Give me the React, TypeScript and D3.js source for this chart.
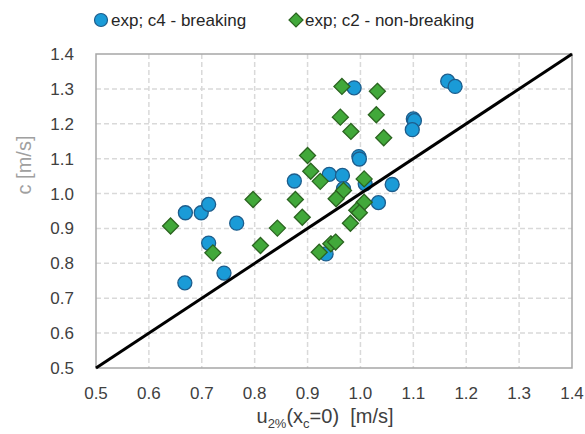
import React from "react";
import * as d3 from "d3";

// Breaking waves (series c4): [u2%, c]
const breakingU = [0.669, 0.699, 0.713, 0.766, 0.713, 0.668, 0.742, 0.875, 0.941, 0.966, 0.988, 0.997, 0.998, 0.968, 1.009, 1.060, 1.034, 0.935, 1.100, 1.102, 1.098, 1.165, 1.179];
const breakingC = [0.945, 0.945, 0.969, 0.915, 0.858, 0.744, 0.772, 1.036, 1.055, 1.052, 1.303, 1.106, 1.099, 1.014, 1.028, 1.026, 0.974, 0.827, 1.214, 1.209, 1.183, 1.322, 1.307];

// Non-breaking waves (series c2): [u2%, c]
const nonBreakingU = [0.641, 0.721, 0.797, 0.811, 0.843, 0.877, 0.890, 0.900, 0.906, 0.924, 0.965, 1.032, 0.962, 1.030, 0.982, 1.044, 1.007, 0.968, 0.954, 1.007, 0.993, 0.998, 0.981, 0.944, 0.953, 0.922];
const nonBreakingC = [0.907, 0.830, 0.983, 0.851, 0.901, 0.983, 0.932, 1.109, 1.064, 1.035, 1.307, 1.293, 1.219, 1.226, 1.178, 1.160, 1.042, 1.009, 0.985, 0.975, 0.952, 0.945, 0.915, 0.856, 0.861, 0.832];

const axisTicks = [0.5, 0.6, 0.7, 0.8, 0.9, 1.0, 1.1, 1.2, 1.3, 1.4];
const seriesNames = ["exp; c4 - breaking", "exp; c2 - non-breaking"];

const W = 585;
const H = 434;
const plot = { left: 96, right: 572, top: 54, bottom: 368 };

const BLUE = "#1a9bd7";
const BLUE_EDGE = "#1d5d8c";
const GREEN = "#41a83a";
const GREEN_EDGE = "#2b6420";
const FONT = "'Liberation Sans', Arial, sans-serif";
const FS = 17;
const TITLE_FS = 20;

export default function App() {
  const x = d3.scaleLinear().domain([0.5, 1.4]).range([plot.left, plot.right]);
  const y = d3.scaleLinear().domain([0.5, 1.4]).range([plot.bottom, plot.top]);

  const diamond = (cx: number, cy: number, r: number) =>
    `M${cx},${cy - r}L${cx + r},${cy}L${cx},${cy + r}L${cx - r},${cy}Z`;

  const line = d3.line<number>().x((d) => x(d)).y((d) => y(d));

  return (
    <svg width={W} height={H} style={{ position: "absolute", left: 0, top: 0, background: "#fff" }} fontFamily={FONT}>
      <rect x={0} y={0} width={W} height={H} fill="#fff" />

      {/* grid */}
      {axisTicks.slice(1, -1).map((t) => (
        <line key={"gx" + t} x1={x(t)} x2={x(t)} y1={plot.top} y2={plot.bottom} stroke="#d9d9d9" strokeWidth={1.5} strokeDasharray="5,3" />
      ))}
      {axisTicks.slice(1, -1).map((t) => (
        <line key={"gy" + t} x1={plot.left} x2={plot.right} y1={y(t)} y2={y(t)} stroke="#d9d9d9" strokeWidth={1.5} strokeDasharray="5,3" />
      ))}

      {/* plot border */}
      <rect x={plot.left} y={plot.top} width={plot.right - plot.left} height={plot.bottom - plot.top} fill="none" stroke="#a6a6a6" strokeWidth={1.5} />

      {/* tick labels */}
      {axisTicks.map((t) => (
        <text key={"ty" + t} x={plot.left - 22} y={y(t)} dy="0.35em" textAnchor="end" fontSize={FS} fill="#404040">
          {t.toFixed(1)}
        </text>
      ))}
      {axisTicks.map((t) => (
        <text key={"tx" + t} x={x(t)} y={plot.bottom + 31} textAnchor="middle" fontSize={FS} fill="#404040">
          {t.toFixed(1)}
        </text>
      ))}

      {/* axis titles */}
      <text transform={`translate(31,165) rotate(-90)`} textAnchor="middle" fontSize={TITLE_FS} fill="#a0a0a0">
        c [m/s]
      </text>
      <text x={325} y={plot.bottom + 55} textAnchor="middle" fontSize={TITLE_FS} fill="#404040" style={{ whiteSpace: "pre" }}>
        u<tspan fontSize={13} dy={5}>2%</tspan>
        <tspan dy={-5}>(x</tspan>
        <tspan fontSize={13} dy={5}>c</tspan>
        <tspan dy={-5}>{"=0)  [m/s]"}</tspan>
      </text>

      {/* breaking series */}
      {breakingU.map((u, i) => (
        <circle key={"b" + i} cx={x(u)} cy={y(breakingC[i])} r={7} fill={BLUE} stroke={BLUE_EDGE} strokeWidth={1.3} />
      ))}

      {/* non-breaking series */}
      {nonBreakingU.map((u, i) => (
        <path key={"n" + i} d={diamond(x(u), y(nonBreakingC[i]), 8)} fill={GREEN} stroke={GREEN_EDGE} strokeWidth={1.3} />
      ))}

      {/* 1:1 line */}
      <path d={line([0.5, 1.4]) || ""} stroke="#000" strokeWidth={3} fill="none" />

      {/* legend */}
      <circle cx={101} cy={20} r={6.5} fill={BLUE} stroke={BLUE_EDGE} strokeWidth={1.2} />
      <text x={111} y={26} fontSize={FS} fill="#262626">{seriesNames[0]}</text>
      <path d={diamond(296, 20, 7)} fill={GREEN} stroke={GREEN_EDGE} strokeWidth={1.2} />
      <text x={305} y={26} fontSize={FS} fill="#262626">{seriesNames[1]}</text>
    </svg>
  );
}
